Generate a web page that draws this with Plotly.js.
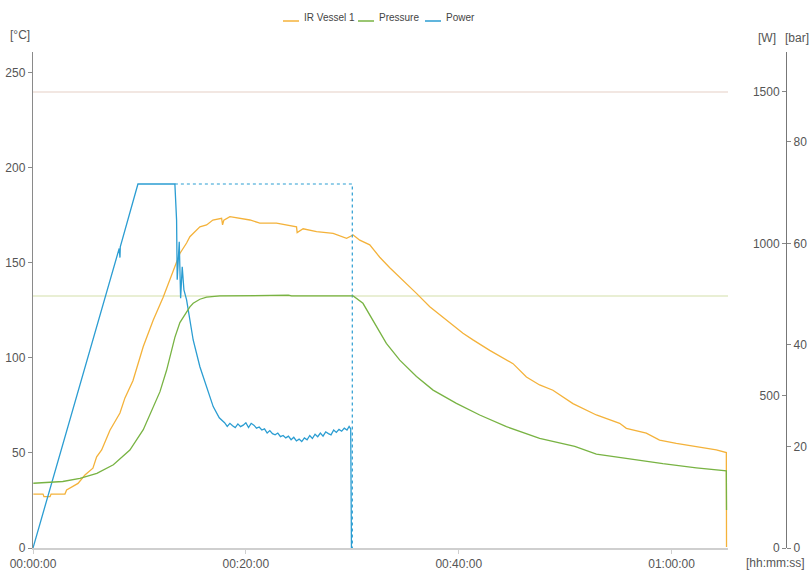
<!DOCTYPE html>
<html>
<head>
<meta charset="utf-8">
<script src="https://cdn.plot.ly/plotly-3.0.1.min.js"></script>
<style>html,body{margin:0;padding:0;background:#fff;}#chart{width:809px;height:576px;}</style>
</head>
<body>
<div id="chart"></div>
<script>
// time in minutes
const tempTime = [0.03,0.94,1.03,1.6,1.7,3.0,3.16,4.23,4.88,5.63,5.98,6.45,7.23,8.17,8.64,9.39,10.36,11.3,12.23,13.33,13.8,14.43,14.74,15.68,16.31,16.9,17.72,17.81,17.93,18.5,20.38,21.31,22.88,24.76,24.82,25.38,26.64,28.2,29.46,30.08,30.7,31.64,32.58,33.52,34.77,36.03,37.28,38.85,40.4,41.34,42.91,45.1,46.36,47.6,48.85,50.73,52.93,55.12,55.75,57.62,58.87,60.44,62.32,64.2,65.14,65.16];
const tempValues = [28.4,28.4,27.0,27.0,28.4,28.4,30.5,34,38.4,42,48,51.6,62,71,79,88,106,120,132,148,155,160.5,163.8,169,170,172.6,173.5,170,172.5,174.4,172.6,171,171,169,166,168,166.5,165.6,163,164.7,162,159.5,153,147.5,141,134,127,120,113,109.5,104,97,90,85.8,83,76,70,65.6,63,60.4,56.8,55,53.3,51.6,50.2,0.5];

const presTime = [0.03,2.8,4.41,6.0,7.55,9.1,10.36,11.3,11.93,12.55,12.86,13.33,13.8,14.43,14.74,15.05,15.68,16.31,17.0,17.56,24.0,24.3,29.5,30.08,31.0,31.95,33.2,34.46,36.03,37.59,39.78,41.97,44.48,47.6,50.9,52.93,56.06,59.18,62.32,65.14,65.16];
const presValues = [12.75,13.1,13.7,14.7,16.4,19.3,23.3,27.8,30.8,35,37.5,41.5,44.4,46.6,47.5,48.2,49.0,49.4,49.6,49.65,49.8,49.65,49.65,49.65,48.2,44.9,40.3,37,33.8,31.1,28.5,26.2,23.9,21.6,20,18.5,17.5,16.6,15.8,15.2,7.5];

const powerTime = [0,8.1,8.17,8.2,9.86,13.33,13.49,13.55,13.74,13.87,14.02,14.18,14.43,14.74,15.05,15.68,16.31,16.93,17.5,17.75,18.0,18.25,18.5,18.75,19.0,19.25,19.5,19.75,20.0,20.25,20.5,20.75,21.0,21.25,21.5,21.75,22.0,22.25,22.5,22.75,23.0,23.25,23.5,23.75,24.0,24.25,24.5,24.75,25.0,25.25,25.5,25.75,26.0,26.25,26.5,26.75,27.0,27.25,27.5,27.75,28.0,28.25,28.5,28.75,29.0,29.25,29.5,29.7,29.85,29.92];
const powerValues = [0,985,955,990,1197,1197,1079,882,1007,821,925,849,816,750,684,596,531,465,428,420,412,400,410,402,396,408,399,404,412,396,410,404,394,398,388,392,378,386,376,372,378,366,370,362,368,356,364,352,358,350,362,356,370,360,374,366,378,368,382,376,372,388,380,390,384,394,388,400,392,0];

const limitTime = [13.33,30.0,30.0];
const limitValues = [1197,1197,0];

const tempLimit = 240;     // °C
const presLimit = 49.65;   // bar

const xTickVals = [0,20,40,60];
const xTickText = ['00:00:00','00:20:00','00:40:00','01:00:00'];
const tempTicks = [0,50,100,150,200,250];
const powerTicks = [0,500,1000,1500];
const presTicks = [0,20,40,60,80];
const legendNames = ['IR Vessel 1','Pressure','Power'];

const FONT = '"Liberation Sans Narrow","Arial Narrow","Liberation Sans",Arial,sans-serif';
const cOrange = '#f4b23a', cGreen = '#78b343', cBlue = '#2b9dd2';
const colors = [cOrange, cGreen, cBlue];

const traces = [
  {x: tempTime, y: tempValues, name: legendNames[0], type: 'scatter', mode: 'lines', yaxis: 'y',
   line: {color: cOrange, width: 1.3}},
  {x: presTime, y: presValues, name: legendNames[1], type: 'scatter', mode: 'lines', yaxis: 'y3',
   line: {color: cGreen, width: 1.3}},
  {x: powerTime, y: powerValues, name: legendNames[2], type: 'scatter', mode: 'lines', yaxis: 'y2',
   line: {color: cBlue, width: 1.3}},
  {x: limitTime, y: limitValues, name: 'Power limit', type: 'scatter', mode: 'lines', yaxis: 'y2',
   line: {color: cBlue, width: 1.2, dash: 'dot'}}
];

// plot area in pixels: x 33..786, y 52..548
const px = v => (v - 33) / 753;
const py = v => 1 + (52 - v) / 496;

const tickFont = {family: FONT, size: 12, color: '#555'};
const legendFont = {family: FONT, size: 10, color: '#444'};

const legSymX = [[283,299],[358,374],[425,441]];
const legTextX = [302,377,444];

const shapes = [
  {type: 'line', xref: 'x', yref: 'y', x0: 0, x1: 65.3, y0: tempLimit, y1: tempLimit,
   line: {color: '#eedfd9', width: 1.5}, layer: 'below'},
  {type: 'line', xref: 'x', yref: 'y3', x0: 0, x1: 65.3, y0: presLimit, y1: presLimit,
   line: {color: '#e2eac6', width: 1.5}, layer: 'below'}
];
const annotations = [
  {text: '[°C]', xref: 'paper', yref: 'paper', x: px(20), y: py(35), xanchor: 'center', yanchor: 'middle', showarrow: false, font: tickFont},
  {text: '[W]', xref: 'paper', yref: 'paper', x: px(767), y: py(38), xanchor: 'center', yanchor: 'middle', showarrow: false, font: tickFont},
  {text: '[bar]', xref: 'paper', yref: 'paper', x: px(797), y: py(38), xanchor: 'center', yanchor: 'middle', showarrow: false, font: tickFont},
  {text: '[hh:mm:ss]', xref: 'paper', yref: 'paper', x: px(807), y: py(563), xanchor: 'right', yanchor: 'middle', showarrow: false, font: tickFont}
];
legendNames.forEach((n, i) => {
  shapes.push({type: 'line', xref: 'paper', yref: 'paper', x0: px(legSymX[i][0]), x1: px(legSymX[i][1]),
               y0: py(21), y1: py(21), line: {color: colors[i], width: 1.5}});
  annotations.push({text: n, xref: 'paper', yref: 'paper', x: px(legTextX[i]), y: py(17),
                    xanchor: 'left', yanchor: 'middle', showarrow: false, font: legendFont});
});

const layout = {
  width: 809, height: 576,
  margin: {l: 33, r: 23, t: 52, b: 28},
  paper_bgcolor: '#fff', plot_bgcolor: '#fff',
  font: {family: FONT, size: 12, color: '#555'},
  showlegend: false,
  xaxis: {domain: [0, 0.923], range: [0, 65.3], tickvals: xTickVals, ticktext: xTickText,
          showline: true, linecolor: '#cfcfcf', linewidth: 1.5, ticks: 'outside', ticklen: 4, tickcolor: '#cfcfcf',
          showgrid: false, zeroline: false, tickfont: tickFont},
  yaxis: {range: [0, 261], tickvals: tempTicks, showline: true, linecolor: '#8a8a8a', linewidth: 1.2,
          ticks: 'outside', ticklen: 4, tickcolor: '#8a8a8a', showgrid: false, zeroline: false, tickfont: tickFont},
  yaxis2: {range: [0, 1631], tickvals: powerTicks, overlaying: 'y', anchor: 'free', position: 1, side: 'left',
           showline: true, linecolor: '#777', linewidth: 1.2, ticks: 'outside', ticklen: 4, tickcolor: '#888',
           showgrid: false, zeroline: false, tickfont: tickFont},
  yaxis3: {range: [0, 97.7], tickvals: presTicks, overlaying: 'y', anchor: 'free', position: 1, side: 'right',
           showline: true, linecolor: '#777', linewidth: 1.2, ticks: 'outside', ticklen: 4, tickcolor: '#888',
           showgrid: false, zeroline: false, tickfont: tickFont},
  shapes: shapes,
  annotations: annotations
};

Plotly.newPlot('chart', traces, layout, {displayModeBar: false, staticPlot: true});
</script>
</body>
</html>
